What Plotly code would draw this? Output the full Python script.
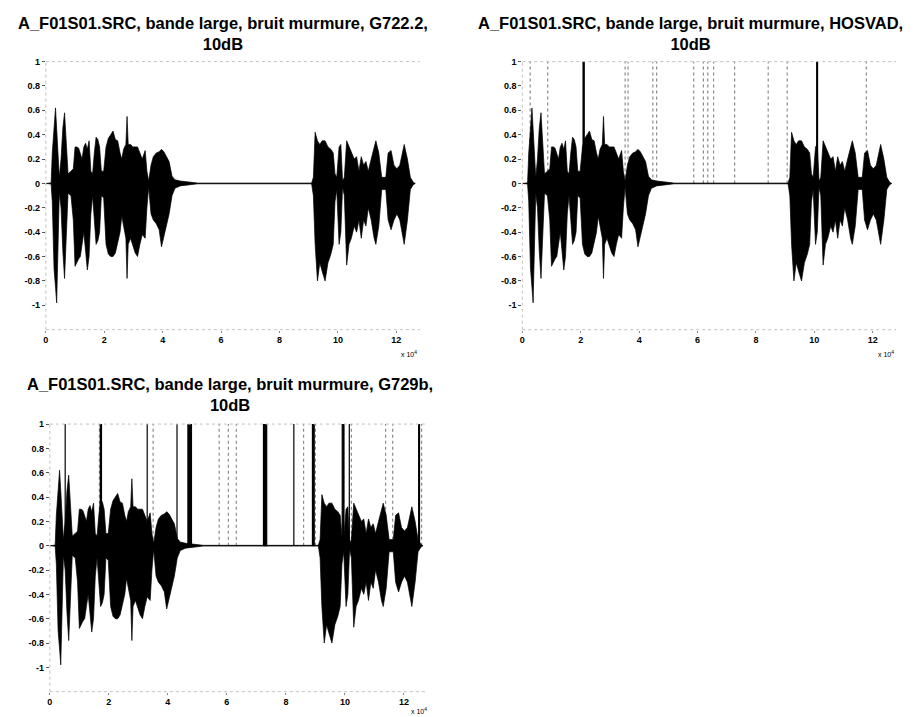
import plotly.graph_objects as go

W, H = 923, 717

# ---- data (x in units of 1e4 samples) ----
titles = [
    "A_F01S01.SRC, bande large, bruit murmure, G722.2,<br>10dB",
    "A_F01S01.SRC, bande large, bruit murmure, HOSVAD,<br>10dB",
    "A_F01S01.SRC, bande large, bruit murmure, G729b,<br>10dB",
]

env_x = [0.0, 0.18, 0.22, 0.28, 0.33, 0.37, 0.41, 0.46, 0.52, 0.58, 0.64, 0.70, 0.76, 0.86, 0.94,
         1.0, 1.06, 1.12, 1.18, 1.24, 1.30, 1.36, 1.42, 1.48, 1.54, 1.60, 1.66, 1.72, 1.78, 1.84,
         1.90, 1.98, 2.06, 2.14, 2.22, 2.30, 2.38, 2.46, 2.54, 2.60, 2.66, 2.74, 2.78, 2.82, 2.90,
         2.98, 3.06, 3.14, 3.22, 3.30, 3.40, 3.46, 3.52, 3.60, 3.68, 3.78, 3.88, 3.96, 4.04, 4.12,
         4.22, 4.32, 4.42, 4.6, 4.9, 5.2, 9.1, 9.16, 9.22, 9.30, 9.38, 9.46, 9.56, 9.66, 9.76,
         9.84, 9.90, 9.96, 10.04, 10.10, 10.16, 10.22, 10.30, 10.38, 10.46, 10.56, 10.64, 10.72,
         10.80, 10.88, 10.96, 11.04, 11.14, 11.24, 11.30, 11.40, 11.50, 11.64, 11.72, 11.82,
         11.92, 12.02, 12.12, 12.27, 12.38, 12.48, 12.58, 12.65]
env_upper = [0.0, 0.005, 0.25, 0.45, 0.62, 0.45, 0.3, 0.05, 0.2, 0.45, 0.58, 0.3, 0.08, 0.1, 0.12,
             0.3, 0.3, 0.29, 0.25, 0.2, 0.3, 0.33, 0.28, 0.35, 0.1, 0.08, 0.25, 0.38, 0.36, 0.3,
             0.1, 0.1, 0.3, 0.37, 0.4, 0.43, 0.36, 0.35, 0.25, 0.2, 0.28, 0.32, 0.55, 0.32, 0.32,
             0.3, 0.3, 0.3, 0.25, 0.2, 0.27, 0.1, 0.02, 0.15, 0.22, 0.25, 0.26, 0.28, 0.26, 0.22,
             0.18, 0.06, 0.03, 0.02, 0.01, 0.003, 0.003, 0.05, 0.42, 0.35, 0.32, 0.35, 0.35, 0.3, 0.28,
             0.25, 0.08, 0.05, 0.3, 0.32, 0.02, 0.05, 0.35, 0.3, 0.25, 0.2, 0.22, 0.1,
             0.22, 0.15, 0.18, 0.1, 0.2, 0.3, 0.35, 0.25, 0.05, 0.05, 0.25, 0.27,
             0.15, 0.12, 0.15, 0.32, 0.2, 0.05, 0.01, 0.0]
env_lower = [0.0, -0.005, -0.15, -0.7, -0.85, -0.98, -0.6, -0.08, -0.2, -0.55, -0.78, -0.45, -0.08, -0.1, -0.3,
             -0.68, -0.65, -0.62, -0.6, -0.5, -0.4, -0.55, -0.71, -0.6, -0.25, -0.1, -0.3, -0.5, -0.47, -0.4,
             -0.1, -0.12, -0.5, -0.58, -0.6, -0.6, -0.57, -0.5, -0.4, -0.27, -0.35, -0.45, -0.78, -0.5, -0.45,
             -0.5, -0.57, -0.6, -0.5, -0.42, -0.45, -0.2, -0.03, -0.25, -0.3, -0.33, -0.38, -0.52, -0.45, -0.35,
             -0.25, -0.1, -0.04, -0.02, -0.01, -0.003, -0.003, -0.1, -0.5, -0.8, -0.65, -0.72, -0.8, -0.65, -0.58,
             -0.5, -0.15, -0.05, -0.5, -0.4, -0.03, -0.1, -0.67, -0.5, -0.45, -0.35, -0.4, -0.3,
             -0.45, -0.3, -0.35, -0.2, -0.3, -0.45, -0.5, -0.35, -0.05, -0.05, -0.3, -0.38,
             -0.3, -0.25, -0.3, -0.5, -0.3, -0.05, -0.01, 0.0]

# VAD decisions: solid pulses (start, end) and dotted marks
hos_on = [2.08, 10.08]
hos_off = [2.12, 10.11]
hos_dotted = [0.27, 0.87, 3.52, 3.62, 4.47, 4.6, 5.87, 6.2, 6.35, 6.55, 7.27, 8.42, 9.07, 11.78]

g729_on = [0.52, 1.71, 3.30, 4.31, 4.68, 7.24, 8.27, 8.90, 9.91, 10.15, 12.50]
g729_off = [0.54, 1.75, 3.32, 4.33, 4.80, 7.35, 8.29, 8.96, 9.97, 10.17, 12.53]
g729_dotted = [1.68, 3.50, 5.74, 6.05, 6.32, 8.60, 9.00, 10.22, 11.38, 11.62, 12.60]

x_ticks = [0, 2, 4, 6, 8, 10, 12]
y_ticks = [-1, -0.8, -0.6, -0.4, -0.2, 0, 0.2, 0.4, 0.6, 0.8, 1]
y_ticklabels = ["-1", "-0.8", "-0.6", "-0.4", "-0.2", "0", "0.2", "0.4", "0.6", "0.8", "1"]

# ---- layout geometry (pixels) ----
panels = [
    dict(x0=43, unit=29.3, ytop=57, yunit=122.7, tcx=221, t1=17, xl=407, xly=351),
    dict(x0=521, unit=29.3, ytop=57, yunit=122.7, tcx=690, t1=17, xl=886, xly=351),
    dict(x0=47, unit=29.6, ytop=422, yunit=122.5, tcx=228, t1=381, xl=417, xly=711),
]
XMAX, YMIN, YMAX = 12.8, -1.2, 1.0

fig = go.Figure()
FONT = "Liberation Sans, Arial, sans-serif"

def add_wave(xa, ya):
    px = env_x + env_x[::-1]
    py = env_upper + env_lower[::-1]
    fig.add_trace(go.Scatter(x=px, y=py, fill="toself", fillcolor="black",
                             line=dict(color="black", width=0.7), mode="lines",
                             xaxis=xa, yaxis=ya, showlegend=False, hoverinfo="skip"))

def add_dotted(xs, xa, ya):
    X, Y = [], []
    for p in xs:
        X += [p, p, None]
        Y += [0, 1, None]
    fig.add_trace(go.Scatter(x=X, y=Y, mode="lines",
                             line=dict(color="#8a8a8a", width=1.2, dash="dot"),
                             xaxis=xa, yaxis=ya, showlegend=False, hoverinfo="skip"))

def add_pulses(on, off, xa, ya):
    X, Y = [], []
    for s, e in zip(on, off):
        X += [s, s, e, e, s, None]
        Y += [0, 1, 1, 0, 0, None]
    fig.add_trace(go.Scatter(x=X, y=Y, mode="lines", fill="toself", fillcolor="black",
                             line=dict(color="black", width=1.2),
                             xaxis=xa, yaxis=ya, showlegend=False, hoverinfo="skip"))

layout = dict(width=W, height=H, margin=dict(l=0, r=0, t=0, b=0),
              paper_bgcolor="white", plot_bgcolor="white", showlegend=False,
              font=dict(family=FONT, color="black"))
annotations, shapes = [], []

for i, p in enumerate(panels):
    n = "" if i == 0 else str(i + 1)
    xa, ya = "x" + n, "y" + n
    x1 = p["x0"] + XMAX * p["unit"]
    ybot = p["ytop"] + (YMAX - YMIN) * p["yunit"]
    layout["xaxis" + n] = dict(domain=[p["x0"] / W, x1 / W], range=[0, XMAX], anchor=ya,
                               tickvals=x_ticks, ticktext=[str(v) for v in x_ticks],
                               showgrid=False, zeroline=False, showline=False,
                               ticks="outside", ticklen=2, tickcolor="#888",
                               tickfont=dict(size=9, family=FONT, weight="bold"))
    layout["yaxis" + n] = dict(domain=[1 - ybot / H, 1 - p["ytop"] / H], range=[YMIN, YMAX],
                               anchor=xa, tickvals=y_ticks, ticktext=y_ticklabels,
                               showgrid=False, zeroline=False, showline=False,
                               ticks="outside", ticklen=3, tickcolor="#555",
                               tickfont=dict(size=9, family=FONT, weight="bold"))
    for (xx0, yy0, xx1, yy1) in [(0, 0, 0, 1), (0, 0, 1, 0), (0, 1, 1, 1)]:
        shapes.append(dict(type="line", xref=xa + " domain", yref=ya + " domain",
                           x0=xx0, y0=yy0, x1=xx1, y1=yy1,
                           line=dict(color="#c0c0c0", width=1, dash="dot")))
    if i == 1:
        add_dotted(hos_dotted, xa, ya)
    if i == 2:
        add_dotted(g729_dotted, xa, ya)
    add_wave(xa, ya)
    if i == 1:
        add_pulses(hos_on, hos_off, xa, ya)
    if i == 2:
        add_pulses(g729_on, g729_off, xa, ya)
    annotations.append(dict(text="<b>" + titles[i] + "</b>", xref="paper", yref="paper",
                            x=p["tcx"] / W, y=1 - (p["t1"] - 10) / H, xanchor="center", yanchor="top",
                            showarrow=False, font=dict(size=16.5, family=FONT, color="black")))
    annotations.append(dict(text="x 10<sup>4</sup>", xref="paper", yref="paper",
                            x=p["xl"] / W, y=1 - p["xly"] / H, xanchor="center", yanchor="middle",
                            showarrow=False, font=dict(size=7, family=FONT, color="black")))

layout["annotations"] = annotations
layout["shapes"] = shapes
fig.update_layout(**layout)
fig.write_html("out.html")
